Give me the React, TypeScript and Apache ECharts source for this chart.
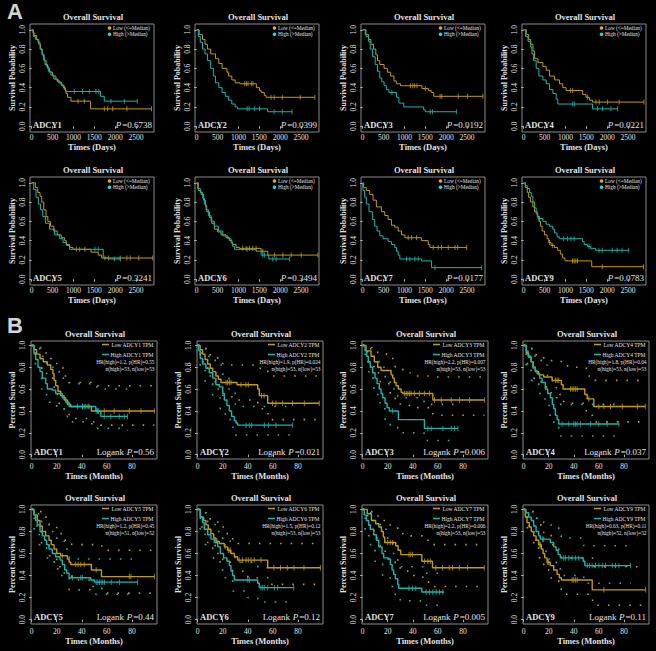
import React, { useEffect, useRef } from "react";
import * as echarts from "echarts";

type P = [number, number];

const genes = ["ADCY1", "ADCY2", "ADCY3", "ADCY4", "ADCY5", "ADCY6", "ADCY7", "ADCY9"];
const pValuesA = ["0.6738", "0.0399", "0.0192", "0.0221", "0.3241", "0.3494", "0.0177", "0.0783"];
const pValuesB = ["0.56", "0.021", "0.006", "0.037", "0.44", "0.12", "0.005", "0.11"];
const hrTexts = [
  "HR(high)=1.2, p(HR)=0.55",
  "HR(high)=1.9, p(HR)=0.024",
  "HR(high)=2.2, p(HR)=0.007",
  "HR(high)=1.8, p(HR)=0.04",
  "HR(high)=1.2, p(HR)=0.45",
  "HR(high)=1.5, p(HR)=0.12",
  "HR(high)=2.2, p(HR)=0.006",
  "HR(high)=0.63, p(HR)=0.11",
];
const nTexts = [
  "n(high)=53, n(low)=53",
  "n(high)=53, n(low)=53",
  "n(high)=53, n(low)=53",
  "n(high)=53, n(low)=53",
  "n(high)=51, n(low)=52",
  "n(high)=53, n(low)=53",
  "n(high)=53, n(low)=53",
  "n(high)=52, n(low)=52",
];
const xTicksA = [0, 500, 1000, 1500, 2000, 2500];
const xTicksB = [0, 20, 40, 60, 80];
const yTicks = [0, 0.2, 0.4, 0.6, 0.8, 1.0];

// ---------- Panel A (days) ----------
const kmALow: P[][] = [
  [[0,1],[30,0.97],[60,0.94],[120,0.9],[170,0.85],[210,0.8],[250,0.75],[280,0.69],[320,0.64],[380,0.6],[430,0.56],[500,0.52],[580,0.48],[650,0.45],[720,0.42],[780,0.38],[820,0.34],[860,0.3],[940,0.26],[1410,0.18],[2870,0.18]],
  [[0,1],[60,0.95],[140,0.9],[200,0.85],[257,0.8],[335,0.75],[450,0.7],[530,0.65],[608,0.6],[725,0.56],[765,0.52],[842,0.48],[920,0.45],[1040,0.44],[1430,0.4],[1505,0.37],[1545,0.35],[1620,0.32],[1660,0.3],[2830,0.3]],
  [[0,1],[63,0.95],[142,0.9],[197,0.85],[260,0.8],[315,0.74],[355,0.68],[410,0.64],[513,0.6],[592,0.56],[670,0.52],[750,0.47],[805,0.44],[907,0.42],[1420,0.39],[1578,0.37],[1640,0.35],[1700,0.31],[2880,0.31]],
  [[0,1],[63,0.95],[120,0.9],[167,0.85],[222,0.78],[262,0.7],[341,0.66],[460,0.62],[540,0.58],[620,0.52],[740,0.48],[857,0.44],[937,0.4],[1016,0.37],[1413,0.33],[1493,0.3],[1572,0.27],[1650,0.25],[2880,0.25]],
  [[0,1],[90,0.95],[145,0.9],[200,0.86],[240,0.8],[290,0.72],[345,0.65],[387,0.6],[450,0.55],[530,0.5],[612,0.46],[710,0.43],[790,0.4],[830,0.36],[910,0.33],[990,0.31],[1420,0.28],[1595,0.25],[1675,0.22],[2900,0.22]],
  [[0,1],[40,0.92],[104,0.88],[168,0.82],[208,0.76],[240,0.7],[304,0.64],[360,0.58],[424,0.52],[504,0.49],[584,0.46],[704,0.43],[784,0.4],[848,0.36],[944,0.33],[1024,0.32],[1544,0.29],[1704,0.25],[2904,0.25]],
  [[0,1],[24,0.95],[88,0.92],[168,0.88],[248,0.82],[328,0.75],[449,0.7],[529,0.66],[609,0.62],[689,0.56],[769,0.54],[850,0.5],[930,0.46],[1010,0.43],[1410,0.4],[1570,0.36],[1610,0.33],[2493,0.33]],
  [[0,1],[40,0.95],[87,0.9],[119,0.85],[166,0.8],[221,0.75],[261,0.7],[324,0.65],[364,0.6],[403,0.55],[443,0.5],[498,0.46],[561,0.42],[601,0.38],[657,0.35],[736,0.33],[815,0.3],[878,0.26],[933,0.22],[989,0.19],[1630,0.13],[2870,0.13]],
];
const kmAHigh: P[][] = [
  [[0,1],[40,0.93],[90,0.9],[150,0.87],[200,0.8],[250,0.74],[300,0.68],[350,0.62],[400,0.57],[460,0.53],[530,0.49],[620,0.46],[700,0.43],[760,0.4],[810,0.36],[1650,0.31],[1740,0.26],[2530,0.26]],
  [[0,1],[40,0.93],[86,0.87],[140,0.8],[200,0.75],[257,0.68],[335,0.6],[400,0.52],[450,0.45],[530,0.4],[608,0.35],[686,0.31],[765,0.27],[842,0.23],[920,0.2],[975,0.18],[1700,0.15],[2285,0.15]],
  [[0,1],[80,0.93],[142,0.88],[181,0.8],[237,0.72],[300,0.64],[355,0.57],[410,0.5],[458,0.46],[513,0.42],[568,0.38],[630,0.35],[812,0.3],[868,0.24],[986,0.2],[1460,0.17],[1500,0.15],[2250,0.15]],
  [[0,1],[48,0.93],[103,0.88],[167,0.82],[198,0.75],[238,0.68],[300,0.6],[365,0.52],[460,0.48],[540,0.44],[620,0.38],[700,0.34],[778,0.28],[818,0.23],[1650,0.18],[2250,0.18]],
  [[0,1],[48,0.93],[105,0.85],[160,0.78],[210,0.72],[266,0.65],[330,0.58],[427,0.52],[548,0.46],[670,0.42],[750,0.38],[830,0.35],[910,0.31],[1715,0.22],[1838,0.21],[2120,0.21]],
  [[0,1],[24,0.94],[88,0.9],[144,0.84],[184,0.78],[224,0.72],[280,0.66],[344,0.6],[424,0.55],[520,0.5],[624,0.45],[744,0.42],[824,0.38],[864,0.34],[904,0.31],[1424,0.29],[1544,0.25],[1728,0.21],[2224,0.21]],
  [[0,1],[8,0.92],[48,0.85],[88,0.78],[152,0.7],[232,0.62],[288,0.55],[345,0.5],[409,0.45],[489,0.42],[609,0.39],[689,0.36],[769,0.33],[810,0.29],[850,0.25],[890,0.21],[1410,0.19],[1650,0.12],[2850,0.12]],
  [[0,1],[40,0.97],[87,0.94],[142,0.9],[182,0.86],[221,0.8],[261,0.74],[300,0.68],[340,0.63],[459,0.6],[538,0.57],[617,0.55],[696,0.52],[736,0.48],[799,0.44],[854,0.42],[1408,0.39],[1448,0.36],[1527,0.34],[1606,0.32],[1724,0.3],[2515,0.3]],
];
const censALow: number[][] = [
  [1110,1260,1740,1820,1940,2280,2870],
  [1150,1190,1230,1310,1350,1780,1855,2050,2480,2830],
  [1144,1200,1246,1300,1500,1854,1894,2288,2510,2880],
  [1120,1175,1530,1730,1810,2010,2287,2880],
  [1070,1150,1275,1757,1838,2120,2280,2360,2563,2900],
  [1104,1184,1264,1344,1424,1584,1864,2064,2264,2504,2904],
  [1090,1170,1290,1690,1810,1890,2050,2212,2276,2493],
  [617,696,1170,1210,1250,1290,1883,2870],
];
const censAHigh: number[][] = [
  [1020,1220,1380,1540,1610,1900,2220,2530],
  [1210,1255,1390,1505,1855,2050,2285],
  [700,1617,1673,2250],
  [1175,1215,1770,1890,2090,2250],
  [1515,1595,1980,2120],
  [1208,1584,1624,1824,1904,2224],
  [1050,1130,1250,1330,1731,2850],
  [380,957,1052,1131,1210,1566,1803,1883,2120,2238,2357,2515],
];

// ---------- Panel B (months) ----------
const kmBLow: P[][] = [
  [[0,1],[1.9,0.96],[4,0.92],[6.7,0.88],[9.3,0.85],[12.5,0.82],[15.2,0.78],[17,0.74],[17.9,0.68],[19.2,0.63],[21,0.58],[23.2,0.54],[25.9,0.5],[28.5,0.46],[31.2,0.44],[47.7,0.4],[97.9,0.4]],
  [[0,1],[2,0.96],[4,0.92],[5.9,0.87],[8,0.83],[10.1,0.79],[12,0.76],[14.6,0.72],[16.5,0.69],[18.6,0.66],[31.4,0.64],[47.9,0.6],[49.2,0.54],[55.9,0.47],[97,0.47]],
  [[0,1],[2.7,0.95],[6.7,0.9],[9.3,0.85],[12,0.8],[14.7,0.77],[22.7,0.73],[24,0.7],[25.3,0.66],[26.7,0.63],[28.5,0.6],[30.7,0.57],[32,0.56],[56,0.5],[97.3,0.5]],
  [[0,1],[2.1,0.93],[4,0.89],[5.9,0.85],[7.5,0.8],[9.3,0.76],[12,0.73],[16,0.71],[22.7,0.68],[30.1,0.64],[31.5,0.6],[48.8,0.55],[50.7,0.51],[56,0.44],[97,0.44]],
  [[0,1],[1.9,0.95],[4.5,0.9],[6.7,0.85],[8.5,0.8],[11.2,0.76],[13.9,0.72],[15.7,0.68],[17.9,0.64],[20,0.6],[23.2,0.58],[28.5,0.55],[29.9,0.52],[31.2,0.5],[47.7,0.45],[55.7,0.39],[97.9,0.39]],
  [[0,1],[2.1,0.93],[4.8,0.9],[6.6,0.86],[8.5,0.82],[10.6,0.78],[12.8,0.74],[14.6,0.71],[17.3,0.69],[21.3,0.66],[23.9,0.63],[26.6,0.6],[29.3,0.57],[31.9,0.54],[55.9,0.47],[97.9,0.47]],
  [[0,1],[3.7,0.96],[7,0.9],[10.4,0.87],[13,0.84],[15,0.8],[16.5,0.75],[17.6,0.7],[26.4,0.67],[28.3,0.63],[30.4,0.59],[47.2,0.53],[55.7,0.47],[97,0.47]],
  [[0,1],[1.3,0.93],[2.7,0.88],[4.5,0.84],[6.1,0.8],[8,0.76],[9.9,0.72],[12,0.68],[14.1,0.64],[15.5,0.6],[16.8,0.56],[18.7,0.52],[21.3,0.49],[24,0.45],[26.7,0.41],[28.5,0.38],[30.1,0.36],[54.7,0.27],[97.3,0.27]],
];
const kmBHigh: P[][] = [
  [[0,1],[1.9,0.92],[3.2,0.87],[5.1,0.8],[6.7,0.76],[8.5,0.7],[11.2,0.65],[12.5,0.6],[16.5,0.59],[19.2,0.56],[24.5,0.52],[27.2,0.48],[29.9,0.44],[51.2,0.4],[55.2,0.35],[76.5,0.35]],
  [[0,1],[0.8,0.95],[2.1,0.88],[4,0.83],[6.6,0.79],[9.3,0.75],[12,0.7],[14.6,0.64],[17.3,0.62],[20,0.56],[21.3,0.5],[23.4,0.45],[25.3,0.4],[27.1,0.35],[29.3,0.31],[30.6,0.29],[31.9,0.27],[75.8,0.27]],
  [[0,1],[1.9,0.95],[3.2,0.9],[4.5,0.85],[6.1,0.8],[8,0.75],[9.9,0.7],[11.5,0.65],[13.3,0.6],[14.7,0.56],[16,0.52],[17.9,0.47],[19.5,0.43],[21.3,0.4],[28.5,0.32],[49.3,0.24],[76,0.24]],
  [[0,1],[2.1,0.95],[3.5,0.9],[5.9,0.85],[7.5,0.8],[9.3,0.77],[10.7,0.74],[12.8,0.7],[14.7,0.66],[17.3,0.6],[19.2,0.56],[21.3,0.52],[22.9,0.46],[24,0.42],[25.3,0.36],[26.7,0.32],[28,0.28],[76,0.28]],
  [[0,1],[1.9,0.95],[3.2,0.9],[4.5,0.86],[6.7,0.8],[8.5,0.76],[10.4,0.72],[12,0.68],[13.9,0.64],[16.5,0.6],[19.2,0.57],[22.7,0.54],[24.5,0.5],[26.4,0.45],[28,0.42],[29.9,0.38],[47.2,0.36],[49.9,0.34],[84.5,0.34]],
  [[0,1],[2.1,0.93],[4,0.88],[5.3,0.82],[8,0.77],[10.6,0.73],[13.3,0.7],[16,0.66],[18.1,0.6],[20.7,0.56],[23.4,0.53],[25.3,0.49],[26.6,0.44],[27.9,0.4],[29.3,0.36],[47.9,0.33],[49.2,0.29],[76.6,0.29]],
  [[0,1],[1.3,0.95],[2.9,0.9],[4.8,0.86],[6.1,0.82],[8.8,0.77],[10.9,0.72],[12.8,0.66],[15.5,0.6],[16.8,0.56],[20.8,0.55],[22.1,0.5],[23.5,0.45],[24.8,0.41],[26.1,0.37],[28,0.32],[28.8,0.285],[47.2,0.25],[65,0.25]],
  [[0,1],[1.9,0.97],[4,0.93],[6.1,0.9],[8,0.85],[9.9,0.8],[12,0.76],[13.3,0.73],[21.3,0.7],[24,0.66],[25.9,0.63],[27.5,0.59],[29.3,0.56],[47.5,0.53],[48.8,0.49],[85.3,0.49]],
];
const censBLow: number[][] = [
  [40.5,43.2,45,52.5,57.9,65.9,77.9,87.2,97.9],
  [22.6,23.9,25.3,26.6,34.6,38.6,40.4,51,53,59.8,62.5,67.8,75.8,85.1,97],
  [33.3,34.7,36,37.3,38.7,41.3,45.3,49.3,53.3,57.3,62.7,70.7,77.3,85.3,97.3],
  [25.3,26.7,28,37.3,38.7,40,41.3,42.7,52,60,64,69.3,78.7,90.7,97],
  [24.5,35.2,37.1,39.2,41.9,51.5,77.9,79.2,97.9],
  [15.5,22,24.5,26,33.2,35.9,38.6,40.4,42.6,45.2,50.5,60.8,66.1,71.5,76.8,84.8,97.9],
  [20,22,24,37,38.4,39.8,49.4,52,54,58.4,63.7,69.1,71.7,77.1,83.7,97],
  [12.5,13.5,19,20,38.7,40,41.3,42.7,64,97.3],
];
const censBHigh: number[][] = [
  [36.5,40.5,41.9,45.9,51.5,53.3,57.9,63.2,69.9,73.9,76.5],
  [38.6,41.2,43.1,53.2,56.4,62.5,75.8],
  [24,52,54.7,64,70.7,73.3,76],
  [30.7,36,40,41.3,42.7,45.3,53.3,60,66.7,76],
  [32.5,39.2,40.5,51.5,52.8,54.1,55.5,56.8,58.1,63.5,70.1,84.5],
  [40,41.2,50.5,51.9,53.2,55.9,61.2,63.8,76.6],
  [37,39.8,42.4,50.7,53.3,56,58.7,61.3,64],
  [15,16,32,33.3,36,38.7,41.3,44,50.7,52.5,54.7,57.3,60,62.7,65.3,70.7,73.3,76,85.3],
];
const ciLowUp: P[][] = [
  [[0,1],[5,0.97],[10,0.93],[15,0.88],[20,0.8],[25,0.72],[30,0.66],[48,0.63],[97.9,0.63]],
  [[0,1],[4,0.97],[10,0.9],[16,0.85],[20,0.82],[50,0.78],[56,0.72],[97,0.72]],
  [[0,1],[5,0.97],[12,0.92],[20,0.88],[26,0.8],[32,0.75],[38,0.72],[56,0.71],[97.3,0.71]],
  [[0,1],[5,0.97],[10,0.9],[16,0.86],[30,0.84],[35,0.8],[50,0.72],[56,0.68],[97,0.68]],
  [[0,1],[3,0.98],[8,0.93],[14,0.86],[20,0.78],[26,0.72],[32,0.68],[56,0.63],[97.9,0.63]],
  [[0,1],[4,0.97],[10,0.9],[16,0.84],[22,0.78],[28,0.72],[32,0.69],[97.9,0.69]],
  [[0,1],[4,0.98],[10,0.94],[16,0.9],[22,0.85],[28,0.8],[32,0.76],[48,0.72],[56,0.68],[97,0.68]],
  [[0,1],[3,0.98],[8,0.92],[12,0.86],[16,0.78],[22,0.68],[28,0.6],[30,0.56],[55,0.48],[97.3,0.48]],
];
const ciLowDn: P[][] = [
  [[0,1],[3,0.88],[8,0.78],[12,0.7],[18,0.55],[22,0.45],[26,0.38],[30,0.33],[48,0.27],[97.9,0.27]],
  [[0,1],[3,0.85],[8,0.72],[14,0.6],[20,0.53],[32,0.5],[48,0.42],[56,0.32],[97,0.32]],
  [[0,1],[4,0.85],[9,0.75],[14,0.65],[22,0.56],[26,0.5],[30,0.45],[40,0.43],[56,0.36],[97.3,0.36]],
  [[0,1],[3,0.83],[8,0.7],[14,0.62],[22,0.55],[32,0.47],[50,0.36],[56,0.3],[97,0.3]],
  [[0,1],[3,0.85],[8,0.68],[14,0.58],[20,0.48],[26,0.42],[32,0.36],[48,0.3],[56,0.24],[97.9,0.24]],
  [[0,1],[3,0.84],[8,0.7],[14,0.6],[20,0.52],[28,0.44],[40,0.38],[56,0.32],[97.9,0.32]],
  [[0,1],[4,0.86],[9,0.74],[14,0.65],[18,0.55],[26,0.47],[30,0.44],[40,0.4],[48,0.34],[56,0.3],[97,0.3]],
  [[0,1],[3,0.82],[8,0.68],[12,0.56],[16,0.45],[22,0.36],[28,0.28],[30,0.23],[55,0.13],[97.3,0.13]],
];
const ciHighUp: P[][] = [
  [[0,1],[3,0.98],[8,0.9],[12,0.8],[18,0.76],[25,0.7],[30,0.65],[52,0.6],[76.5,0.6]],
  [[0,1],[3,0.97],[8,0.9],[14,0.82],[20,0.72],[25,0.58],[30,0.44],[75.8,0.42]],
  [[0,1],[3,0.98],[8,0.9],[13,0.8],[18,0.68],[22,0.6],[28,0.52],[49,0.46],[76,0.46]],
  [[0,1],[4,0.97],[9,0.9],[14,0.82],[19,0.72],[23,0.62],[26,0.52],[28,0.46],[76,0.46]],
  [[0,1],[3,0.96],[8,0.88],[14,0.8],[20,0.72],[26,0.64],[30,0.55],[84.5,0.54]],
  [[0,1],[3,0.97],[8,0.88],[14,0.8],[20,0.72],[26,0.6],[30,0.52],[48,0.47],[76.6,0.47]],
  [[0,1],[3,0.97],[8,0.9],[14,0.82],[20,0.72],[24,0.6],[28,0.48],[48,0.42],[65,0.42]],
  [[0,1],[4,0.98],[10,0.92],[16,0.88],[22,0.84],[28,0.76],[30,0.74],[48,0.67],[85.3,0.67]],
];
const ciHighDn: P[][] = [
  [[0,1],[3,0.8],[8,0.6],[12,0.48],[20,0.42],[26,0.35],[30,0.3],[52,0.24],[76.5,0.22]],
  [[0,1],[2,0.8],[6,0.65],[12,0.52],[18,0.42],[22,0.32],[26,0.25],[30,0.18],[75.8,0.17]],
  [[0,1],[2,0.85],[5,0.7],[9,0.55],[14,0.42],[18,0.32],[22,0.26],[28,0.2],[49,0.13],[76,0.13]],
  [[0,1],[2,0.82],[6,0.68],[12,0.56],[17,0.45],[21,0.35],[24,0.25],[28,0.17],[76,0.16]],
  [[0,1],[2,0.82],[6,0.68],[12,0.56],[18,0.46],[24,0.38],[30,0.27],[48,0.23],[84.5,0.23]],
  [[0,1],[2,0.82],[6,0.68],[12,0.56],[18,0.45],[22,0.38],[28,0.26],[40,0.2],[48,0.16],[76.6,0.16]],
  [[0,1],[2,0.82],[5,0.68],[10,0.52],[16,0.4],[22,0.3],[26,0.22],[30,0.17],[48,0.13],[65,0.13]],
  [[0,1],[3,0.85],[8,0.72],[14,0.62],[20,0.55],[26,0.46],[30,0.4],[48,0.33],[85.3,0.33]],
];

// ---------- styling / layout ----------
const FONT = '"Liberation Serif", "DejaVu Serif", serif';
const TXT = "#e2e2e2";
const GOLD = "#c39b10";
const CYAN = "#19b6b1";
const GOLD_DOT = "#e0b400";
const CYAN_DOT = "#22ddd6";
const BOX = "#8a8a8a";

const colsA = [30, 195, 361, 522];
const colsB = [31, 197, 362, 523];
const WA = 124;
const WB = 126;
const rowsA = [{ top: 24, h: 108 }, { top: 177, h: 108 }];
const rowsB = [{ top: 341, h: 118 }, { top: 505, h: 119 }];

function survAt(curve: P[], t: number): number {
  let s = 1;
  for (const [ti, si] of curve) {
    if (ti <= t) s = si;
    else break;
  }
  return s;
}

let measureCtx: CanvasRenderingContext2D | null = null;
function textWidth(text: string, size: number, style = "normal", weight = "normal"): number {
  if (!measureCtx) measureCtx = document.createElement("canvas").getContext("2d");
  if (!measureCtx) return text.length * size * 0.5;
  measureCtx.font = `${style} ${weight} ${size}px ${FONT}`;
  return measureCtx.measureText(text).width;
}

function buildOption() {
  const grid: any[] = [];
  const xAxis: any[] = [];
  const yAxis: any[] = [];
  const series: any[] = [];
  const graphic: any[] = [];

  const txt = (x: number, y: number, text: string, size: number, opts: any = {}) => ({
    type: "text",
    x,
    y,
    silent: true,
    style: {
      text,
      fill: opts.fill || TXT,
      fontSize: size,
      fontFamily: opts.family || FONT,
      fontWeight: opts.weight || "normal",
      fontStyle: opts.style || "normal",
      align: opts.align || "left",
      verticalAlign: opts.valign || "middle",
      textAlign: opts.align || "left",
      textVerticalAlign: opts.valign || "middle",
    },
  });

  for (let p = 0; p < 16; p++) {
    const isB = p >= 8;
    const gi = p % 8;
    const row = Math.floor(gi / 4);
    const col = gi % 4;
    const left = isB ? colsB[col] : colsA[col];
    const width = isB ? WB : WA;
    const top = isB ? rowsB[row].top : rowsA[row].top;
    const height = isB ? rowsB[row].h : rowsA[row].h;
    const right = left + width;
    const bottom = top + height;

    grid.push({ left, top, width, height, show: true, borderColor: BOX, borderWidth: 1, backgroundColor: "transparent" });

    const xt = isB ? xTicksB : xTicksA;
    xAxis.push({
      gridIndex: p,
      type: "value",
      min: isB ? -0.5 : -40,
      max: isB ? 100 : 2930,
      axisLine: { show: false },
      splitLine: { show: false },
      axisTick: { show: true, length: 2.5, lineStyle: { color: "#b0b0b0", width: 1 }, customValues: xt },
      axisLabel: {
        customValues: xt,
        color: TXT,
        fontSize: 7.5,
        fontFamily: FONT,
        margin: isB ? 3.5 : 1.8,
        formatter: (v: number) => (xt.indexOf(v) >= 0 ? String(v) : ""),
      },
      name: isB ? "Times (Months)" : "Times (Days)",
      nameLocation: "middle",
      nameGap: isB ? 12.5 : 10.5,
      nameTextStyle: { color: TXT, fontSize: 8.5, fontWeight: "bold", fontFamily: FONT },
    });
    yAxis.push({
      gridIndex: p,
      type: "value",
      min: isB ? -0.04 : -0.06,
      max: isB ? 1.04 : 1.06,
      axisLine: { show: false },
      splitLine: { show: false },
      axisTick: { show: true, length: 2.5, lineStyle: { color: "#b0b0b0", width: 1 }, customValues: yTicks },
      axisLabel: {
        customValues: yTicks,
        rotate: 90,
        color: TXT,
        fontSize: 7.5,
        fontFamily: FONT,
        margin: isB ? 4.5 : 3.2,
        formatter: (v: number) => (yTicks.some((t) => Math.abs(t - v) < 1e-9) ? v.toFixed(1) : ""),
      },
      name: isB ? "Percent Survival" : "Survival Pobability",
      nameLocation: "middle",
      nameGap: isB ? 15 : 14,
      nameTextStyle: { color: TXT, fontSize: 8, fontWeight: "bold", fontFamily: FONT },
    });

    const low = isB ? kmBLow[gi] : kmALow[gi];
    const high = isB ? kmBHigh[gi] : kmAHigh[gi];
    const cLow = isB ? censBLow[gi] : censALow[gi];
    const cHigh = isB ? censBHigh[gi] : censAHigh[gi];
    const lw = isB ? 1.4 : 1;

    if (isB) {
      const ciList: [P[], string][] = [
        [ciLowUp[gi], GOLD],
        [ciLowDn[gi], GOLD],
        [ciHighUp[gi], CYAN],
        [ciHighDn[gi], CYAN],
      ];
      ciList.forEach(([d, c]) => {
        series.push({
          type: "line",
          xAxisIndex: p,
          yAxisIndex: p,
          data: d,
          step: "end",
          showSymbol: false,
          symbol: "none",
          silent: true,
          z: 2,
          lineStyle: { color: c, width: 1.6, type: [1.6, 9] },
        });
      });
    }

    [
      [low, GOLD],
      [high, CYAN],
    ].forEach(([d, c]: any) => {
      series.push({
        type: "line",
        xAxisIndex: p,
        yAxisIndex: p,
        data: d,
        step: "end",
        showSymbol: false,
        symbol: "none",
        silent: true,
        z: 3,
        lineStyle: { color: c, width: lw },
      });
    });
    [
      [cLow, low, GOLD],
      [cHigh, high, CYAN],
    ].forEach(([ts, curve, c]: any) => {
      series.push({
        type: "scatter",
        xAxisIndex: p,
        yAxisIndex: p,
        data: ts.map((t: number) => [t, survAt(curve, t)]),
        symbol: "rect",
        symbolSize: [1, isB ? 5.5 : 5],
        silent: true,
        z: 4,
        itemStyle: { color: c },
      });
    });

    // title
    graphic.push(txt((left + right) / 2 + 1, top - 7.5, "Overall Survival", 8.5, { weight: "bold", align: "center" }));
    // gene label
    graphic.push(txt(left + 3, bottom - 7, genes[gi], 8.5, { weight: "bold" }));
    // p value: "[Logank ]P=value" with italic P
    const num = "=" + (isB ? pValuesB[gi] : pValuesA[gi]);
    const rx = right - (isB ? 3 : 2);
    const wNum = textWidth(num, 9) + 0.9;
    const wP = textWidth("P", 9, "italic");
    graphic.push(txt(rx, bottom - 7, num, 9, { align: "right" }));
    graphic.push(txt(rx - wNum, bottom - 7, "P", 9, { align: "right", style: "italic" }));
    if (isB) {
      const wSp = textWidth(" ", 9) + 0.4;
      graphic.push(txt(rx - wNum - wP - wSp, bottom - 7, "Logank", 9, { align: "right" }));
      // legend
      graphic.push({ type: "line", silent: true, shape: { x1: right - 55, y1: top + 3.5, x2: right - 48, y2: top + 3.5 }, style: { stroke: GOLD, lineWidth: 1.5 } });
      graphic.push({ type: "line", silent: true, shape: { x1: right - 55, y1: top + 13.5, x2: right - 48, y2: top + 13.5 }, style: { stroke: CYAN, lineWidth: 1.5 } });
      graphic.push(txt(right - 3.5, top + 3.5, "Low " + genes[gi] + " TPM", 5.5, { align: "right" }));
      graphic.push(txt(right - 3.5, top + 13.5, "High " + genes[gi] + " TPM", 5.5, { align: "right" }));
      graphic.push(txt(right - 2.5, top + 21, hrTexts[gi], 5.3, { align: "right" }));
      graphic.push(txt(right - 2.5, top + 28, nTexts[gi], 5.3, { align: "right" }));
    } else {
      graphic.push({ type: "circle", silent: true, shape: { cx: right - 44.5, cy: top + 4, r: 1.8 }, style: { fill: GOLD_DOT } });
      graphic.push({ type: "circle", silent: true, shape: { cx: right - 44.5, cy: top + 10.3, r: 1.8 }, style: { fill: CYAN_DOT } });
      graphic.push(txt(right - 41, top + 4, "Low (<=Median)", 5.3));
      graphic.push(txt(right - 41, top + 10.3, "High (>Median)", 5.3));
    }
  }

  graphic.push(txt(7, 0, "A", 22, { family: '"Liberation Sans", Arial, sans-serif', weight: "bold", valign: "top", fill: "#d4d4d4" }));
  graphic.push(txt(7, 314, "B", 22, { family: '"Liberation Sans", Arial, sans-serif', weight: "bold", valign: "top", fill: "#d4d4d4" }));

  return {
    animation: false,
    backgroundColor: "#000000",
    grid,
    xAxis,
    yAxis,
    series,
    graphic,
  };
}

export default function App() {
  const ref = useRef<HTMLDivElement>(null);
  useEffect(() => {
    document.body.style.margin = "0";
    document.body.style.background = "#000";
    if (!ref.current) return;
    const chart = echarts.init(ref.current, undefined, { renderer: "svg" });
    chart.setOption(buildOption() as any);
    return () => chart.dispose();
  }, []);
  return <div ref={ref} style={{ position: "absolute", left: 0, top: 0, width: 656, height: 651, background: "#000" }} />;
}
